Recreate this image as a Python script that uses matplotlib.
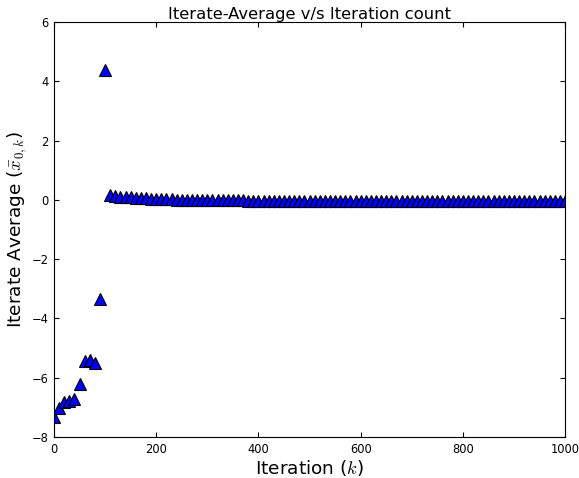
import matplotlib
matplotlib.use("Agg")
import matplotlib.pyplot as plt

plt.rcParams["mathtext.fontset"] = "cm"

iterations = list(range(0, 1001, 10))
early_values = [-7.33, -7.02, -6.82, -6.78, -6.72, -6.21, -5.43, -5.40, -5.49, -3.36, 4.38]
late_values = [
    0.15, 0.13, 0.11, 0.09, 0.08, 0.07, 0.06, 0.05, 0.04, 0.03,
    0.03, 0.02, 0.02, 0.01, 0.01, 0.00, 0.00, -0.01, -0.01, -0.02,
    -0.02, -0.02, -0.02, -0.02, -0.02, -0.02, -0.02, -0.03, -0.03, -0.03,
    -0.03, -0.03, -0.03, -0.03, -0.03, -0.03, -0.03, -0.03, -0.03, -0.03,
    -0.03, -0.03, -0.03, -0.03, -0.03, -0.03, -0.03, -0.03, -0.03, -0.03,
    -0.03, -0.03, -0.03, -0.03, -0.03, -0.03, -0.03, -0.03, -0.03, -0.03,
    -0.03, -0.03, -0.03, -0.03, -0.03, -0.03, -0.03, -0.03, -0.03, -0.03,
    -0.03, -0.03, -0.03, -0.03, -0.03, -0.03, -0.03, -0.03, -0.03, -0.03,
    -0.03, -0.03, -0.03, -0.03, -0.03, -0.03, -0.03, -0.03, -0.03, -0.03,
]
values = early_values + late_values
xticks = [0, 200, 400, 600, 800, 1000]
yticks = [-8, -6, -4, -2, 0, 2, 4, 6]

fig = plt.figure(figsize=(5.79, 4.78), dpi=100, facecolor="white")
ax = fig.add_axes([0.0933, 0.0858, 0.976 - 0.0933, 0.954 - 0.0858])
ax.plot(iterations, values, linestyle="none", marker="^", markersize=8,
        markerfacecolor="blue", markeredgecolor="black", markeredgewidth=0.8)
ax.set_xlim(0, 1000)
ax.set_ylim(-8, 6)
ax.set_xticks(xticks)
ax.set_yticks(yticks)
ax.tick_params(direction="in", top=True, right=True, length=3.5, labelsize=8.3, pad=4)
ax.set_title("Iterate-Average v/s Iteration count", fontsize=11.8, pad=2)
ax.set_xlabel("Iteration ($k$)", fontsize=13.3, labelpad=2)
ax.set_ylabel(r"Iterate Average ($\bar{x}_{0,k}$)", fontsize=13.3, labelpad=2)
fig.savefig("out.png", dpi=100, facecolor="white")
